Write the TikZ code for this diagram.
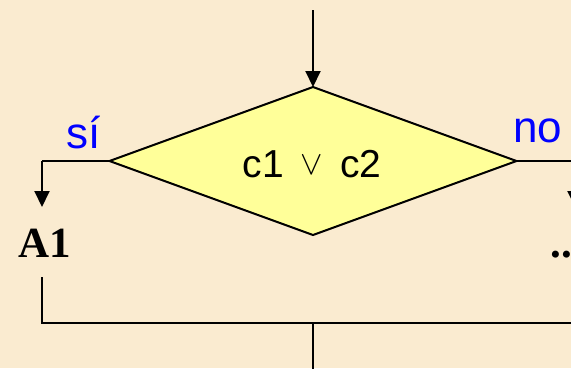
\documentclass[tikz,border=0pt]{standalone}
\usepackage{fontspec}
\setmainfont{Liberation Serif}
\newfontfamily\arialf{Liberation Sans}
\usetikzlibrary{shapes.geometric,arrows.meta}
\definecolor{bgc}{HTML}{FAEBD0}
\definecolor{dfill}{HTML}{FFFF99}
\definecolor{lblue}{HTML}{0000FF}
\begin{document}
\begin{tikzpicture}[x=1pt,y=-1pt,
  conn/.style={line width=2pt},
  arr/.style={conn,-{Triangle[width=15pt,length=16pt]}},
  decision/.style={diamond,draw,line width=2pt,fill=dfill,minimum width=407pt,minimum height=148pt,inner sep=0pt,outer sep=0pt},
  lbl/.style={text=lblue,font=\arialf\fontsize{44}{44}\selectfont,anchor=base,inner sep=0pt},
  act/.style={font=\bfseries\fontsize{43}{43}\selectfont,anchor=base,inner sep=0pt}]
\fill[bgc] (0,0) rectangle (571,368);
\useasboundingbox (0,0) rectangle (571,368);
\clip (0,0) rectangle (571,368);
\node[decision] (d) at (313,161) {};
\node[anchor=base,inner sep=0pt,font=\arialf\fontsize{39}{39}\selectfont] (t) at (312,177) {c1\hspace{17pt}\raisebox{3pt}{\scalebox{1.35}{$\vee$}}\hspace{17pt}c2};
\coordinate (top) at (313,10);
\coordinate (lc) at (42,161);
\coordinate (rc) at (575,161);
\coordinate (a1top) at (42,207);
\coordinate (a2top) at (575,207);
\coordinate (a1bot) at (42,277);
\coordinate (a2bot) at (575,277);
\coordinate (jl) at (42,323);
\coordinate (jr) at (575,323);
\coordinate (jm) at (313,323);
\coordinate (out) at (313,370);
\node[act] (a1) at (45,257) {A1};
\node[act] (a2) at (567,257) {...};
\node[lbl] (si) at (84,148) {sí};
\node[lbl] (no) at (538,142) {no};
\draw[arr] (top) -- (d.north);
\draw[conn] (d.west) -- (lc);
\draw[arr] (lc) -- (a1top);
\draw[conn] (d.east) -- (rc);
\draw[arr] (rc) -- (a2top);
\draw[conn] (a1bot) -- (jl) -- (jr) -- (a2bot);
\draw[conn] (jm) -- (out);
\end{tikzpicture}
\end{document}
